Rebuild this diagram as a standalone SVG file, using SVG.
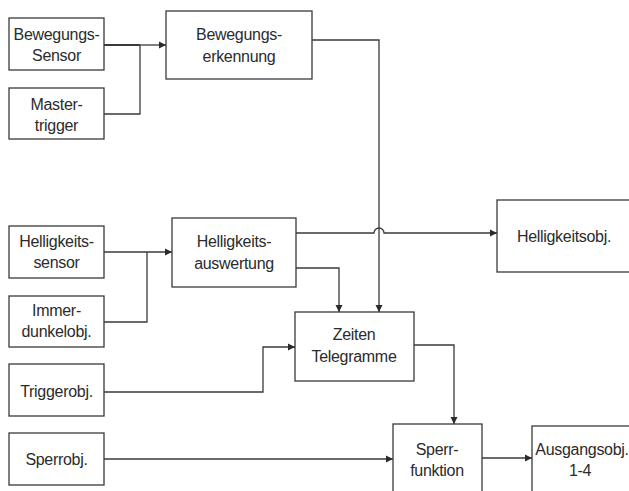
<svg xmlns="http://www.w3.org/2000/svg" width="629" height="491" viewBox="0 0 629 491">
<style>
.box{fill:#fff;stroke:#3a3a3a;stroke-width:1.3}
.t{font-family:"Liberation Sans",Arial,sans-serif;font-size:16px;letter-spacing:-0.3px;fill:#2b2b2b;text-anchor:middle}
.c{fill:none;stroke:#3a3a3a;stroke-width:1.3}
</style>
<defs>
<marker id="a" markerWidth="8" markerHeight="8" refX="7" refY="4" orient="auto" markerUnits="userSpaceOnUse">
<path d="M0,0.5 L7,4 L0,7.5 Z" fill="#2b2b2b"/>
</marker>
</defs>
<rect width="629" height="491" fill="#fff"/>
<g id="connectors">
<path class="c" d="M104,45 H140" style="stroke-width:2"/>
<path class="c" d="M140,45 H166" marker-end="url(#a)"/>
<path class="c" d="M104,114 H140 V45"/>
<path class="c" d="M312,40 H379 V312" marker-end="url(#a)"/>
<path class="c" d="M104,252 H172" marker-end="url(#a)"/>
<path class="c" d="M104,322 H147 V252"/>
<path class="c" d="M296,233 H374 A5,5 0 0 1 384,233 H497" marker-end="url(#a)"/>
<path class="c" d="M296,268 H339 V312" marker-end="url(#a)"/>
<path class="c" d="M104,392 H263 V347 H295" marker-end="url(#a)"/>
<path class="c" d="M414,345 H454 V424" marker-end="url(#a)"/>
<path class="c" d="M104,459 H393" marker-end="url(#a)"/>
<path class="c" d="M482,458 H532" marker-end="url(#a)"/>
</g>
<g id="bewegungssensor"><rect class="box" x="9" y="18" width="95" height="52"/><text class="t" x="56.5" y="40">Bewegungs-</text><text class="t" x="56.5" y="61">Sensor</text></g>
<g id="mastertrigger"><rect class="box" x="9" y="88" width="95" height="51"/><text class="t" x="56.5" y="110">Master-</text><text class="t" x="56.5" y="131">trigger</text></g>
<g id="bewegungserkennung"><rect class="box" x="166" y="11" width="146" height="68"/><text class="t" x="239" y="40">Bewegungs-</text><text class="t" x="239" y="62">erkennung</text></g>
<g id="helligkeitssensor"><rect class="box" x="9" y="226" width="95" height="52"/><text class="t" x="56.5" y="247">Helligkeits-</text><text class="t" x="56.5" y="268">sensor</text></g>
<g id="immerdunkelobj"><rect class="box" x="9" y="296" width="95" height="51"/><text class="t" x="56.5" y="316">Immer-</text><text class="t" x="56.5" y="337">dunkelobj.</text></g>
<g id="helligkeitsauswertung"><rect class="box" x="172" y="218" width="124" height="69"/><text class="t" x="234" y="247">Helligkeits-</text><text class="t" x="234" y="269">auswertung</text></g>
<g id="helligkeitsobj"><rect class="box" x="497" y="200" width="140" height="72"/><text class="t" x="564" y="242">Helligkeitsobj.</text></g>
<g id="zeitentelegramme"><rect class="box" x="295" y="312" width="119" height="69"/><text class="t" x="354" y="340">Zeiten</text><text class="t" x="354" y="362">Telegramme</text></g>
<g id="triggerobj"><rect class="box" x="9" y="364" width="95" height="52"/><text class="t" x="56.5" y="397">Triggerobj.</text></g>
<g id="sperrobj"><rect class="box" x="9" y="433" width="95" height="52"/><text class="t" x="56.5" y="465">Sperrobj.</text></g>
<g id="sperrfunktion"><rect class="box" x="393" y="424" width="89" height="80"/><text class="t" x="437" y="455">Sperr-</text><text class="t" x="437" y="476">funktion</text></g>
<g id="ausgangsobj"><rect class="box" x="532" y="426" width="110" height="80"/><text class="t" x="582" y="455">Ausgangsobj.</text><text class="t" x="580" y="476">1-4</text></g>
</svg>
